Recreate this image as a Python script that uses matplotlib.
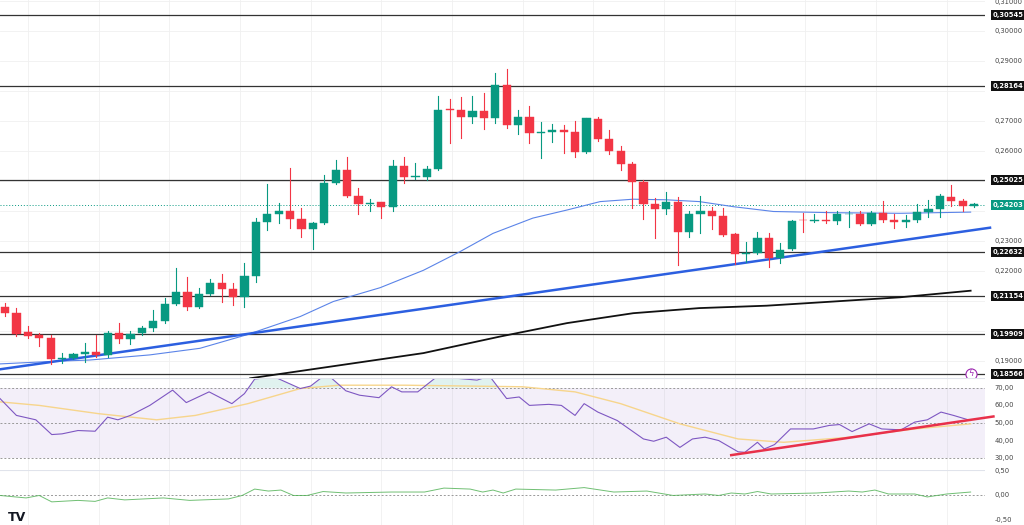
import numpy as np
import matplotlib
matplotlib.use("Agg")
import matplotlib.pyplot as plt
from matplotlib.patches import Rectangle

# ---- price candles (OHLC) ----
opens = [.2079, .2059, .1996, .1985, .1977, .1907, .1911, .1923, .1930, .1920,
         .1992, .1972, .1992, .2011, .2034, .2090, .2128, .2081, .2122, .2159,
         .2139, .2114, .2183, .2363, .2390, .2400, .2372, .2341, .2359, .2492,
         .2537, .2450, .2423, .2428, .2414, .2550, .2514, .2514, .2540, .2739,
         .2737, .2712, .2734, .2709, .2820, .2687, .2712, .2661, .2664, .2670,
         .2664, .2598, .2708, .2639, .2601, .2557, .2497, .2423, .2408, .2430,
         .2330, .2388, .2401, .2383, .2323, .2255, .2259, .2309, .2244, .2272,
         .2370, .2367, .2369, .2367, .2388, .2390, .2356, .2392, .2368, .2364,
         .2368, .2395, .2406, .2448, .2433, .2417]
highs = [.2094, .2076, .2015, .1992, .1985, .1928, .1926, .1961, .1986, .1998,
         .2026, .2001, .2015, .2070, .2109, .2209, .2179, .2142, .2173, .2190,
         .2159, .2226, .2375, .2490, .2425, .2542, .2409, .2364, .2520, .2570,
         .2579, .2475, .2439, .2430, .2570, .2579, .2559, .2550, .2783, .2772,
         .2779, .2783, .2792, .2859, .2873, .2737, .2750, .2698, .2690, .2687,
         .2701, .2709, .2712, .2670, .2617, .2564, .2503, .2442, .2464, .2446,
         .2398, .2450, .2414, .2409, .2326, .2298, .2331, .2328, .2292, .2370,
         .2392, .2390, .2398, .2398, .2401, .2401, .2398, .2433, .2390, .2387,
         .2422, .2437, .2455, .2486, .2439, .2428]
lows = [.2050, .1983, .1976, .1950, .1890, .1892, .1906, .1898, .1914, .1914,
        .1961, .1957, .1985, .1998, .2026, .2087, .2070, .2076, .2120, .2098,
        .2087, .2081, .2164, .2337, .2359, .2342, .2314, .2272, .2357, .2490,
        .2446, .2390, .2398, .2375, .2401, .2492, .2506, .2503, .2537, .2626,
        .2642, .2692, .2672, .2692, .2676, .2657, .2628, .2576, .2631, .2592,
        .2579, .2594, .2633, .2590, .2537, .2409, .2372, .2309, .2390, .2220,
        .2314, .2326, .2339, .2317, .2223, .2231, .2255, .2212, .2226, .2270,
        .2331, .2362, .2359, .2357, .2346, .2353, .2353, .2364, .2344, .2348,
        .2364, .2381, .2379, .2418, .2398, .2412]
closes = [.2059, .1990, .1984, .1977, .1907, .1911, .1922, .1930, .1920, .1994,
          .1972, .1990, .2009, .2034, .2090, .2129, .2081, .2122, .2159, .2139,
          .2114, .2183, .2363, .2389, .2398, .2372, .2341, .2359, .2492, .2537,
          .2450, .2423, .2425, .2414, .2550, .2514, .2517, .2540, .2737, .2737,
          .2712, .2734, .2709, .2820, .2687, .2712, .2661, .2663, .2670, .2664,
          .2598, .2708, .2639, .2601, .2557, .2497, .2423, .2408, .2430, .2330,
          .2388, .2401, .2383, .2321, .2255, .2259, .2309, .2244, .2270, .2367,
          .2368, .2369, .2367, .2388, .2390, .2356, .2392, .2368, .2364, .2368,
          .2395, .2406, .2448, .2433, .2417, .2422]

# ---- moving averages / trendlines (candle index, price) ----
ma50_x = [-0.44, 3.95, 7.46, 12.7, 17.1, 21.2, 25.9, 28.8, 32.9, 36.7, 39.9, 42.8,
          46.3, 49.3, 52.2, 55.1, 58.0, 60.9, 63.9, 67.4, 72.7, 78.5, 84.7]
ma50_y = [.1890, .1898, .1903, .1920, .1942, .1987, .2048, .2098, .2144, .2202, .2264, .2325,
          .2376, .2403, .2431, .2439, .2437, .2431, .2414, .2398, .2394, .2392, .2396]
ma200_x = [21.5, 36.7, 43.4, 49.3, 55.1, 60.9, 66.8, 72.7, 78.5, 84.7]
ma200_y = [.1842, .1926, .1981, .2026, .2059, .2076, .2084, .2098, .2112, .2134]
trend_x = [-0.44, 86.4]
trend_y = [.1872, .2344]

levels = [0.30545, 0.28164, 0.25025, 0.22632, 0.21154, 0.19909, 0.18566]
last_price = 0.24203
price_ticks = [0.31, 0.30, 0.29, 0.28, 0.27, 0.26, 0.25, 0.24, 0.23, 0.22, 0.21, 0.20, 0.19]

# ---- RSI panel ----
rsi_x = [-0.44, 1.0, 2.7, 4.1, 5.0, 6.4, 7.9, 9.0, 9.9, 11.0, 12.7, 14.7, 15.9, 17.9,
         19.9, 21.0, 21.9, 23.6, 25.9, 26.8, 28.2, 29.9, 31.1, 32.8, 33.9, 34.8, 36.2,
         37.7, 39.7, 41.4, 42.5, 44.0, 45.1, 46.0, 47.7, 48.8, 50.0, 50.8, 52.0, 53.7,
         56.0, 56.9, 58.0, 59.2, 60.3, 61.4, 62.6, 64.3, 64.9, 66.0, 66.6, 67.5, 68.9,
         70.9, 72.3, 73.2, 74.3, 75.8, 76.9, 78.6, 79.8, 80.9, 82.1, 83.2, 84.7]
rsi_y = [63.9, 54.3, 51.8, 43.4, 43.8, 45.7, 45.3, 53.3, 51.8, 54.3, 60.0, 68.7, 61.6, 67.7,
         61.0, 66.7, 75.0, 76.3, 69.6, 71.0, 78.0, 68.3, 65.8, 64.4, 70.6, 67.7, 67.7,
         75.4, 75.4, 74.4, 76.7, 63.9, 64.8, 60.0, 60.6, 60.0, 54.3, 61.0, 56.2, 51.4,
         40.9, 39.6, 41.9, 36.1, 40.9, 41.9, 40.0, 33.6, 33.3, 39.0, 35.2, 37.7, 46.6,
         46.6, 48.6, 49.1, 45.1, 49.5, 46.6, 46.1, 50.5, 51.8, 56.2, 54.3, 51.4]
rsima_x = [-0.4, 3, 8.2, 13.3, 16.7, 21.3, 25.9, 29.3, 35.1, 45.4, 50, 54, 59.2, 64.3,
           68.3, 74.1, 79.8, 84.7]
rsima_y = [62, 60, 55.3, 51.8, 54.3, 61, 69.6, 71.5, 71.5, 70.6, 67.7, 61, 49.5, 40.9,
           39, 41.9, 46.6, 49.5]
rsi_trend_x = [63.7, 86.7]
rsi_trend_y = [31.7, 53.7]
rsi_ticks = [70, 60, 50, 40, 30]

# ---- bottom oscillator ----
osc_x = [-0.44, 1.85, 3.0, 4.1, 6.4, 7.9, 9.0, 10.5, 13.9, 16.2, 19.6, 20.8, 21.9, 23.1,
         24.2, 25.3, 26.5, 27.9, 29.9, 33.9, 36.8, 38.5, 40.8, 41.9, 42.8, 43.7, 44.8,
         48.3, 50.8, 53.4, 56.3, 58.6, 61.4, 62.6, 63.7, 64.9, 66.0, 67.2, 71.2, 74.0,
         75.2, 76.3, 77.5, 79.8, 80.9, 82.6, 84.7]
osc_y = [0, -.05, 0, -.13, -.10, -.12, -.05, -.09, -.05, -.10, -.07, 0, .13, .09,
         .11, 0, 0, .08, .05, .07, .07, .15, .13, .07, .11, .05, .13,
         .11, .16, .07, .09, 0, .03, 0, .05, .03, .08, .03, .05, .09,
         .07, .11, .03, .03, -.03, .03, .07]
osc_ticks = [0.5, 0.0, -0.5]

UP, DN = "#089981", "#f23645"
XL = (-0.44, 85.96)
LX = 1.008  # right label position (axes fraction)
FS = 4.9


def fmt(v, d):
    return f"{v:.{d}f}".replace(".", ",")


def vgrid(ax):
    for gx in np.arange(2, 86, 6.2):
        ax.axvline(gx, color="#f0f0f0", lw=0.6, zorder=0)


fig = plt.figure(figsize=(10.24, 5.25), dpi=100)
ax = fig.add_axes([0, 0.28, 985 / 1024, 0.72])
ar = fig.add_axes([0, 0.105, 985 / 1024, 0.175])
ao = fig.add_axes([0, 0.0, 985 / 1024, 0.105])
for a in (ax, ar, ao):
    a.set_xlim(*XL)
    a.set_xticks([]); a.set_yticks([])
    for s in a.spines.values():
        s.set_visible(False)
    vgrid(a)

# main panel
ax.set_ylim(0.1843, 0.3103)
for p in price_ticks:
    ax.axhline(p, color="#f0f0f0", lw=0.6, zorder=0)
for lv in levels:
    ax.axhline(lv, color="#333333", lw=0.9, zorder=1)
ax.axhline(last_price, color=UP, lw=0.7, ls=(0, (1, 2)), zorder=1)
ax.plot(ma50_x, ma50_y, color="#5b84e8", lw=0.8, zorder=2)
ax.plot(ma200_x, ma200_y, color="#111111", lw=1.3, zorder=2)
ax.plot(trend_x, trend_y, color="#2c5fe0", lw=1.8, zorder=2, clip_on=False)
for i, (o, h, l, c) in enumerate(zip(opens, highs, lows, closes)):
    col = UP if c >= o else DN
    ax.plot([i, i], [l, h], color=col, lw=0.8, zorder=3)
    lo, hi = min(o, c), max(o, c)
    ax.add_patch(Rectangle((i - 0.36, lo), 0.72, max(hi - lo, 0.0002),
                           facecolor=col, edgecolor=col, lw=0.3, zorder=4))

tr = ax.get_yaxis_transform()
for p in price_ticks:
    if all(abs(p - lv) > 0.0035 for lv in levels + [last_price]):
        ax.text(LX + 0.002, min(p, 0.3095), fmt(p, 5), transform=tr, fontsize=FS,
                color="#444444", va="center", ha="left", clip_on=False)
for lv in levels:
    ax.text(LX, lv, fmt(lv, 5), transform=tr, fontsize=FS, color="white",
            weight="bold", va="center", ha="left", clip_on=False,
            bbox=dict(boxstyle="square,pad=0.3", fc="#111111", ec="none"))
ax.text(LX, last_price, fmt(last_price, 5), transform=tr, fontsize=FS, color="white",
        weight="bold", va="center", ha="left", clip_on=False,
        bbox=dict(boxstyle="square,pad=0.3", fc=UP, ec="none"))
ax.plot([84.7], [0.1858], marker="o", ms=8, mfc="white", mec="#9c27b0", mew=0.8,
        zorder=6, clip_on=False)
ax.text(84.7, 0.1858, "ϟ", color="#9c27b0", fontsize=6, ha="center", va="center", zorder=7)

# RSI panel
ar.set_ylim(23.3, 75.6)
ar.axhspan(30, 70, color="#7e57c2", alpha=0.09, lw=0)
for v in (70, 50, 30):
    ar.axhline(v, color="#999999", lw=0.7, ls=(0, (2, 2)))
rx, ry = np.array(rsi_x), np.array(rsi_y)
ar.fill_between(rx, 70, ry, where=ry > 70, interpolate=True, color=UP, alpha=0.12, lw=0)
ar.plot(rsima_x, rsima_y, color="#f7d58c", lw=1.0)
ar.plot(rx, ry, color="#7e57c2", lw=0.8)
ar.plot(rsi_trend_x, rsi_trend_y, color="#e8304a", lw=1.8, clip_on=False)
tr2 = ar.get_yaxis_transform()
for v in rsi_ticks:
    ar.text(LX + 0.002, v, fmt(v, 2), transform=tr2, fontsize=FS, color="#444444",
            va="center", ha="left", clip_on=False)
ar.axhline(75.6, color="#e0e3eb", lw=0.8)

# bottom panel
ao.set_ylim(-0.6, 0.52)
ao.axhline(0, color="#999999", lw=0.7, ls=(0, (2, 2)))
ao.plot(osc_x, osc_y, color="#4caf50", lw=0.7, alpha=0.8)
tr3 = ao.get_yaxis_transform()
for v in osc_ticks:
    ao.text(LX + 0.002, max(v, -0.5), fmt(v, 2), transform=tr3, fontsize=FS,
            color="#444444", va="center", ha="left", clip_on=False)
ao.axhline(0.52, color="#e0e3eb", lw=0.8)
ao.text(0.008, 0.14, "TV", transform=ao.transAxes, fontsize=9, weight="heavy",
        color="#131722", va="center", ha="left")

fig.savefig("out.png", dpi=100, facecolor="white")
